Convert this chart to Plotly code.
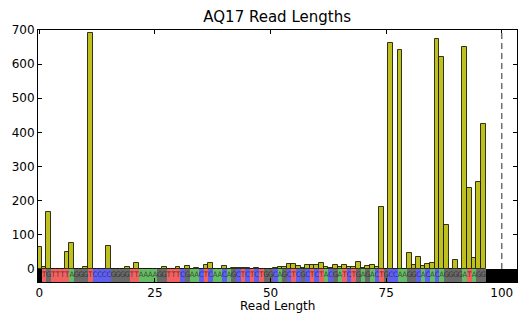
import plotly.graph_objects as go

# ---------------- data ----------------
read_lengths = list(range(0, 97))
read_counts = [
    64, 5, 168, 0, 0, 0, 49, 75, 0, 0,
    5, 690, 0, 0, 0, 67, 0, 0, 0, 5,
    0, 17, 0, 0, 1, 1, 0, 7, 0, 0,
    5, 1, 9, 1, 4, 1, 11, 19, 0, 1,
    9, 1, 4, 4, 4, 4, 1, 4, 1, 0,
    1, 4, 5, 5, 15, 16, 9, 2, 11, 13,
    11, 19, 5, 3, 13, 5, 11, 5, 5, 20,
    4, 9, 13, 7, 183, 0, 662, 0, 640, 0,
    46, 12, 34, 9, 14, 19, 674, 622, 129, 0,
    25, 0, 650, 238, 32, 256, 425,
]
sequence = "TGTTTTAGGGTCCCCGGGGTTAAAAGGTTTCGAACTCAACAGCTCTCTGGCAGCTCGCTCTACGATCTGAGACTGCCAAGGCACACAGGGGATAGG"
x_ticks = [0, 25, 50, 75, 100]
y_ticks = [0, 100, 200, 300, 400, 500, 600, 700]
max_read_length = 100

# ---------------- styling ----------------
base_colors = {"A": "#66bb66", "C": "#6060f0", "G": "#6a6a6a", "T": "#f06262"}
x_range = [-0.3, 103.3]
y_range = [-38, 700]
strip_bottom = y_range[0]
strip_top = 0

positions = list(range(1, len(sequence) + 1))
letters = list(sequence)

fig = go.Figure()

# sequence strip cells
fig.add_trace(go.Bar(
    x=positions,
    y=[strip_top - strip_bottom] * len(positions),
    base=strip_bottom,
    width=1,
    marker=dict(color=[base_colors[c] for c in letters], line=dict(width=0)),
    hoverinfo="skip",
    showlegend=False,
))
# black padding outside sequence
left_pad_end = positions[0] - 0.5
right_pad_start = positions[-1] + 0.5
fig.add_trace(go.Bar(
    x=[(x_range[0] - 1 + left_pad_end) / 2, (right_pad_start + x_range[1] + 1) / 2],
    y=[strip_top - strip_bottom] * 2,
    base=strip_bottom,
    width=[left_pad_end - (x_range[0] - 1), (x_range[1] + 1) - right_pad_start],
    marker=dict(color="black", line=dict(width=0)),
    hoverinfo="skip",
    showlegend=False,
))
# letters
fig.add_trace(go.Scatter(
    x=positions,
    y=[(strip_top + strip_bottom) / 2] * len(positions),
    mode="text",
    text=letters,
    textfont=dict(family="DejaVu Sans Condensed, DejaVu Sans", size=7.5, color="rgba(0,0,0,0.6)"),
    hoverinfo="skip",
    showlegend=False,
))

# histogram bars
fig.add_trace(go.Bar(
    x=read_lengths,
    y=read_counts,
    width=1,
    marker=dict(color="#bfbf1f", line=dict(color="rgba(20,20,0,0.85)", width=1)),
    showlegend=False,
))

fig.add_shape(type="line", x0=max_read_length, x1=max_read_length, y0=0, y1=y_range[1],
              xref="x", yref="y", line=dict(color="#707070", width=1.5, dash="6px,4px"))

axis_common = dict(
    showgrid=False, zeroline=False, showline=True, linecolor="black", linewidth=1,
    ticks="inside", ticklen=4, tickcolor="black", mirror="ticks", automargin=False,
    tickfont=dict(family="DejaVu Sans", size=12, color="black"),
)
fig.update_xaxes(range=x_range, tickvals=x_ticks, **axis_common)
fig.update_yaxes(range=y_range, tickvals=y_ticks, **axis_common)

fig.add_annotation(text="Read Length", xref="paper", yref="paper", x=0.5, y=-0.094,
                   xanchor="center", yanchor="middle", showarrow=False,
                   font=dict(family="DejaVu Sans", size=12, color="black"))

fig.update_layout(
    width=518, height=315,
    margin=dict(l=38, r=1, t=30, b=33),
    barmode="overlay", bargap=0,
    plot_bgcolor="white", paper_bgcolor="white",
    title=dict(text="AQ17 Read Lengths", x=0.535, xanchor="center", y=0.948, yanchor="middle",
               font=dict(family="DejaVu Sans", size=15, color="black")),
)

fig.write_html("out.html", config={"displayModeBar": False},
               post_script="document.body.style.margin='0';document.body.style.overflow='hidden';")
